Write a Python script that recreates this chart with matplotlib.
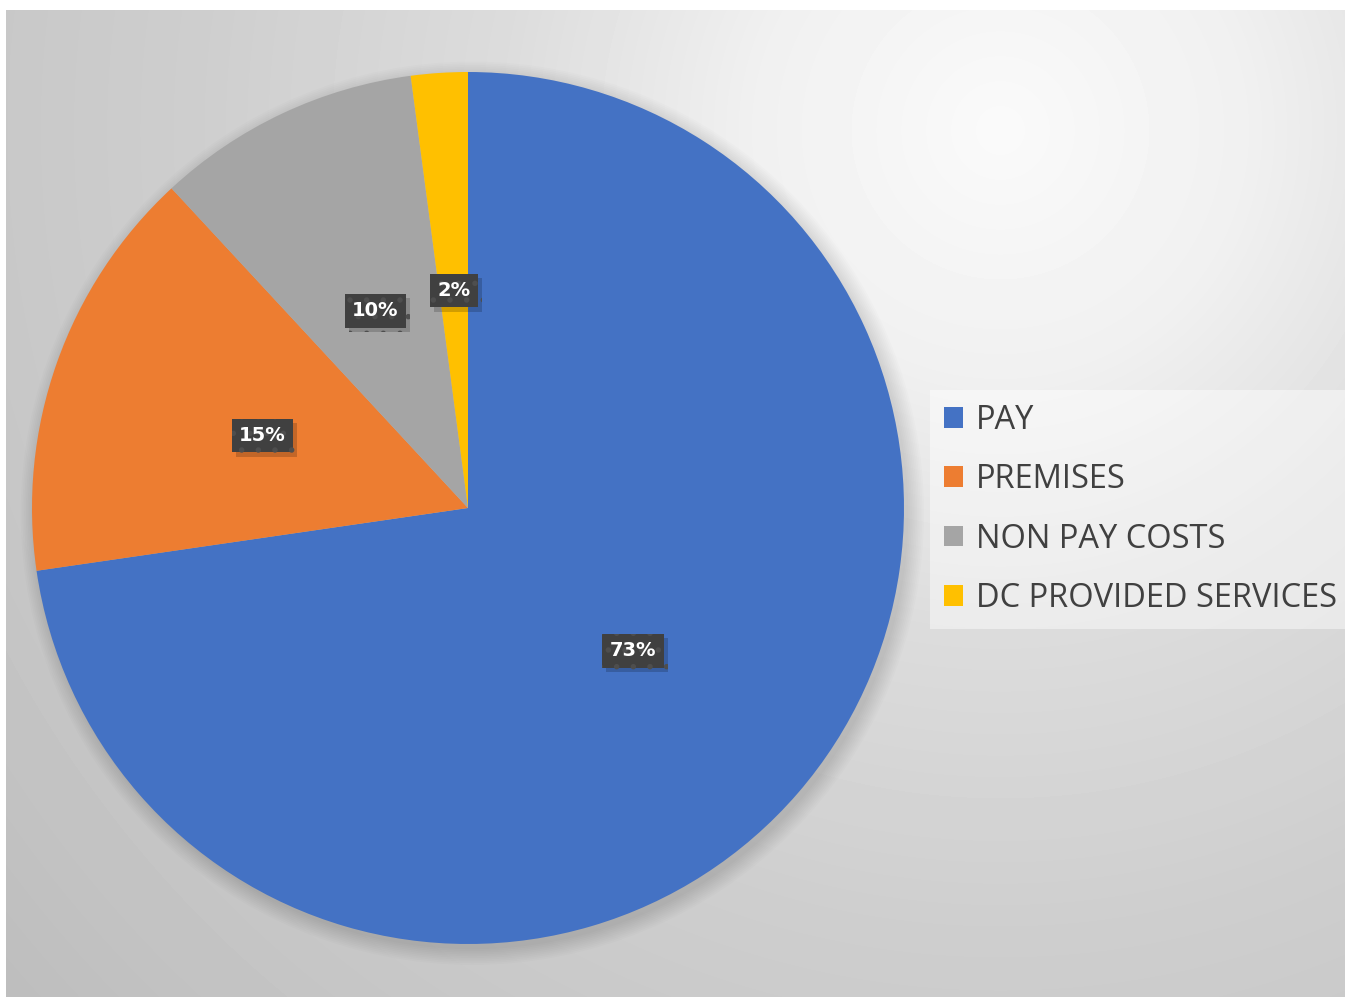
import numpy as np
import matplotlib.pyplot as plt
from matplotlib.patches import Patch, Circle
import matplotlib.patheffects as pe

# dados do gráfico
categorias = ["PAY", "PREMISES", "NON PAY COSTS", "DC PROVIDED SERVICES"]
valores = [72.7, 15.4, 9.8, 2.1]
cores = ["#4472C4", "#ED7D31", "#A5A5A5", "#FFC000"]

W, H = 1345, 999
fig = plt.figure(figsize=(W / 100, H / 100), dpi=100)
fig.patch.set_facecolor("white")

# fundo com gradiente radial (área do gráfico)
x0, y0, x1, y1 = 6, 10, 1345, 997
bg = fig.add_axes([x0 / W, 1 - y1 / H, (x1 - x0) / W, (y1 - y0) / H])
xx, yy = np.meshgrid(np.arange(x0, x1), np.arange(y0, y1))
d = np.hypot(xx - 1000, yy - 130)
v = np.interp(d, [0, 250, 500, 800, 1100, 1300], [250, 240, 220, 206, 197, 190]) / 255
bg.imshow(v, cmap="gray", vmin=0, vmax=1, aspect="auto", interpolation="bilinear")
bg.set_axis_off()

# pizza
cx, cy, r = 468, 508, 436
ax = fig.add_axes([(cx - r) / W, 1 - (cy + r) / H, 2 * r / W, 2 * r / H])
ax.set_axis_off()
ax.patch.set_alpha(0)

# sombra suave
for i in range(10):
    ax.add_patch(Circle((0.01, -0.012), 1.0 + 0.004 * i, color="black",
                        alpha=0.01, lw=0, zorder=0, clip_on=False))

wedges, textos, pcts = ax.pie(
    valores, colors=cores, startangle=90, counterclock=False, radius=1.0,
    autopct=lambda p: f"{p:.0f}%", pctdistance=0.5,
    wedgeprops=dict(linewidth=0),
    textprops=dict(color="white", fontsize=14, fontweight="bold", family="DejaVu Sans"),
)
ax.set_xlim(-1, 1)
ax.set_ylim(-1, 1)

plt.rcParams["hatch.linewidth"] = 1.5
for t in pcts:
    t.set_zorder(4)
    t.set_bbox(dict(boxstyle="square,pad=0.38", fc="#404040", ec="#4e4e4e",
                    lw=0, hatch="."))
    t.get_bbox_patch().set_path_effects(
        [pe.SimplePatchShadow(offset=(3, -3), shadow_rgbFace="black", alpha=0.18),
         pe.Normal()])

# legenda
handles = [Patch(facecolor=c, edgecolor="none") for c in cores]
leg = fig.legend(
    handles, categorias, loc="upper left",
    bbox_to_anchor=(930 / W, 1 - 390 / H),
    prop=dict(family="Open Sans", size=23.5), labelcolor="#404040",
    frameon=True, fancybox=False, handlelength=0.6, handleheight=0.6,
    handletextpad=0.4, labelspacing=0.81, borderpad=0.42, borderaxespad=0,
)
fr = leg.get_frame()
fr.set_facecolor("white")
fr.set_alpha(0.45)
fr.set_edgecolor("none")

fig.savefig("out.png", dpi=100)
